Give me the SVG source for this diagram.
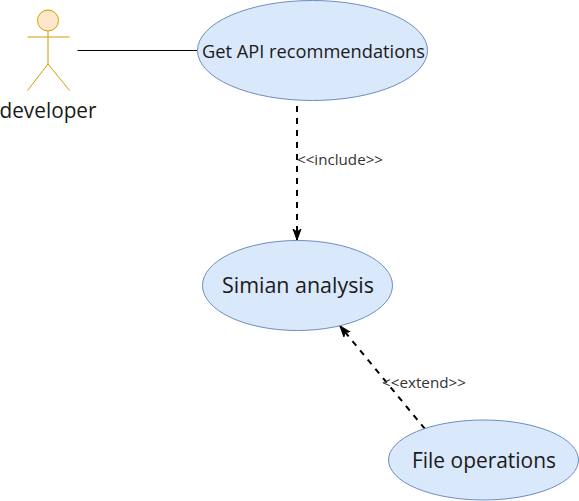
<svg xmlns="http://www.w3.org/2000/svg" width="579" height="501" viewBox="0 0 579 501">
<style>
.uc{fill:#dae8fc;stroke:#6c8ebf;stroke-width:1}
.actor{fill:none;stroke:#d79b00;stroke-width:1}
text{font-family:"Open Sans","Liberation Sans",Arial,sans-serif;fill:#1a1a1a;text-anchor:middle}
.edge{fill:none;stroke:#000;stroke-width:2;stroke-dasharray:6 6}
.lbl{font-size:14.500px;fill:#333}
</style>
<defs>
<marker id="arrow" markerUnits="userSpaceOnUse" markerWidth="12" markerHeight="12" refX="11" refY="6" orient="auto">
<path d="M0 2L11 6L0 10L3 6Z" fill="#000" stroke="#000" stroke-width="1"/>
</marker>
</defs>
<g id="connectors">
<path d="M77.500 50.500H197" fill="none" stroke="#000" stroke-width="1"/>
<path class="edge" d="M297 106V240" marker-end="url(#arrow)"/>
<path class="edge" d="M425 429L340 326" marker-end="url(#arrow)"/>
<text class="lbl" x="340" y="164.500" textLength="86" lengthAdjust="spacingAndGlyphs">&lt;&lt;include&gt;&gt;</text>
<text class="lbl" x="424" y="387.500" textLength="84" lengthAdjust="spacingAndGlyphs">&lt;&lt;extend&gt;&gt;</text>
</g>
<g id="developer">
<circle class="actor" cx="48" cy="20.500" r="10.500" style="fill:#ffe6cc"/>
<path class="actor" d="M48 31V64M27.500 37H69.500M48 64L27.500 90.500M48 64L69.500 90.500"/>
<text x="48" y="118" font-size="21" textLength="97" lengthAdjust="spacingAndGlyphs">developer</text>
</g>
<g id="get-api">
<ellipse class="uc" cx="312.500" cy="50.500" rx="115" ry="50"/>
<text x="313.500" y="57.500" font-size="18" textLength="223" lengthAdjust="spacingAndGlyphs">Get API recommendations</text>
</g>
<g id="simian">
<ellipse class="uc" cx="297.500" cy="285.500" rx="95" ry="45"/>
<text x="298" y="292.500" font-size="21" textLength="152" lengthAdjust="spacingAndGlyphs">Simian analysis</text>
</g>
<g id="file-ops">
<ellipse class="uc" cx="483.500" cy="460" rx="95" ry="40"/>
<text x="484" y="467.500" font-size="21" textLength="144" lengthAdjust="spacingAndGlyphs">File operations</text>
</g>
</svg>
